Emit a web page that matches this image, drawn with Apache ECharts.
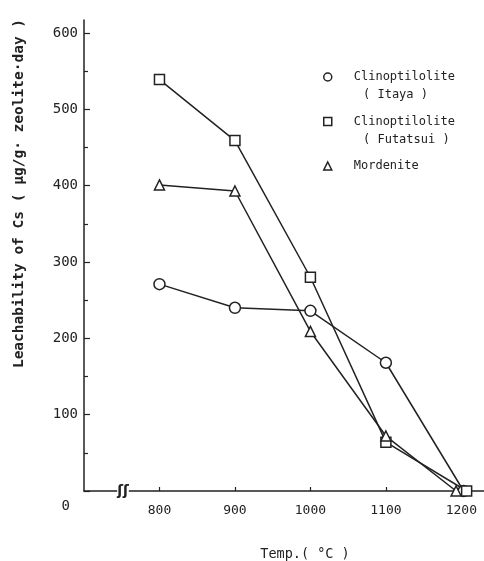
<!DOCTYPE html>
<html>
<head>
<meta charset="utf-8">
<script src="https://cdn.jsdelivr.net/npm/echarts@6/dist/echarts.min.js"></script>
<style>
    html, body { margin: 0; padding: 0; background: #fff; }
    #chart { width: 484px; height: 561px; }
</style>
</head>
<body>
<div id="chart"></div>
<script>
// 数据
const seriesNames = ['Clinoptilolite', 'Clinoptilolite ', 'Mordenite'];
const subNames = ['( Itaya )', '( Futatsui )'];
const itayaX = [800, 900, 1000, 1100, 1203];
const itayaY = [271, 240, 236, 168, 0];
const futatsuiX = [800, 900, 1000, 1100, 1207];
const futatsuiY = [539, 459, 280, 64, 0];
const mordeniteX = [800, 900, 1000, 1100, 1193];
const mordeniteY = [401, 393, 209, 72, 0];
const xTicks = [800, 900, 1000, 1100, 1200];
const yTicks = [0, 100, 200, 300, 400, 500, 600];
const yMinorTicks = [50, 150, 250, 350, 450, 550];

const ink = '#222';
const font = 'DejaVu Sans Mono';

function pairs(xs, ys) {
    return xs.map((x, i) => [x, ys[i]]);
}

function lineSeries(name, xs, ys, symbol, size) {
    return {
        name: name,
        type: 'line',
        data: pairs(xs, ys),
        symbol: symbol,
        symbolSize: size,
        showAllSymbol: true,
        lineStyle: { color: ink, width: 1.5 },
        itemStyle: { color: '#fff', borderColor: ink, borderWidth: 1.5 },
        z: 3
    };
}

let myChart = echarts.init(document.getElementById('chart'));
myChart.setOption({
    backgroundColor: '#fff',
    animation: false,
    grid: { left: 84, top: 20, right: 0, bottom: 70, outerBoundsMode: 'none', containLabel: false },
    legend: {
        orient: 'vertical',
        left: 318,
        top: 66,
        itemWidth: 8,
        itemHeight: 8,
        itemGap: 32.5,
        data: [
            { name: seriesNames[0], icon: 'circle' },
            { name: seriesNames[1], icon: 'rect' },
            { name: seriesNames[2], icon: 'triangle' }
        ],
        itemStyle: { color: '#fff', borderColor: ink, borderWidth: 1.5 },
        lineStyle: { width: 0 },
        textStyle: { color: ink, fontFamily: font, fontSize: 12, padding: [0, 0, 0, 17] }
    },
    xAxis: {
        type: 'value',
        min: 700,
        max: 1230,
        interval: 100,
        name: 'Temp.( °C )',
        nameLocation: 'middle',
        nameGap: 56,
        nameTextStyle: { color: ink, fontFamily: font, fontSize: 13.5, padding: [0, 0, 0, 42] },
        axisLine: { lineStyle: { color: ink, width: 1.5 } },
        axisTick: { inside: true, length: 4, customValues: xTicks, lineStyle: { color: ink, width: 1.2 } },
        splitLine: { show: false },
        axisLabel: {
            color: ink, fontFamily: font, fontSize: 13, margin: 13,
            customValues: xTicks,
            formatter: v => String(v)
        }
    },
    yAxis: [{
        type: 'value',
        min: 0,
        max: 617,
        interval: 100,
        name: 'Leachability of Cs ( μg/g· zeolite·day )',
        nameLocation: 'middle',
        nameGap: 57,
        nameTextStyle: { color: ink, fontFamily: font, fontSize: 14.5, fontWeight: 'bold', padding: [0, 0, 0, 124] },
        axisLine: { show: true, lineStyle: { color: ink, width: 1.5 } },
        axisTick: { show: true, inside: true, length: 6, customValues: yTicks, lineStyle: { color: ink, width: 1.2 } },
        splitLine: { show: false },
        axisLabel: {
            color: ink, fontFamily: font, fontSize: 14, margin: 6,
            customValues: yTicks,
            formatter: v => (v === 0 ? '{z|0}' : String(v)),
            rich: { z: { color: ink, fontFamily: font, fontSize: 14, padding: [30, 8, 0, 0] } }
        }
    }, {
        // minor ticks only
        type: 'value',
        position: 'left',
        min: 0,
        max: 617,
        interval: 100,
        axisLine: { show: false },
        axisTick: { show: true, inside: true, length: 4, customValues: yMinorTicks, lineStyle: { color: ink, width: 1.2 } },
        axisLabel: { show: false },
        splitLine: { show: false }
    }],
    graphic: [
        { type: 'text', left: 363, top: 89, style: { text: subNames[0], fill: ink, font: '12px "DejaVu Sans Mono"' } },
        { type: 'text', left: 363, top: 134, style: { text: subNames[1], fill: ink, font: '12px "DejaVu Sans Mono"' } },
        { type: 'text', x: 123, y: 491, style: { text: 'ʃʃ', fill: ink, font: 'bold 14px "DejaVu Sans"', align: 'center', verticalAlign: 'middle', backgroundColor: '#fff' }, z: 10 }
    ],
    series: [
        lineSeries(seriesNames[0], itayaX, itayaY, 'circle', 11),
        lineSeries(seriesNames[1], futatsuiX, futatsuiY, 'rect', 10),
        lineSeries(seriesNames[2], mordeniteX, mordeniteY, 'triangle', 10)
    ]
});
</script>
</body>
</html>
